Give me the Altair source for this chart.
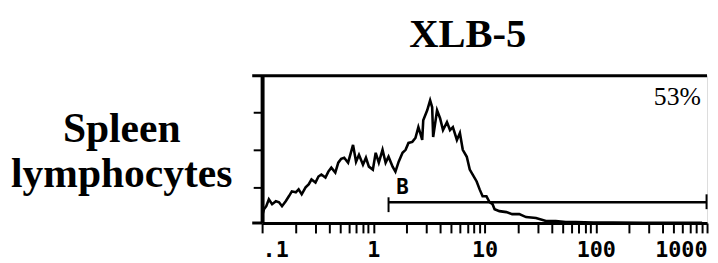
import altair as alt
import pandas as pd

# Histogram trace (fluorescence, counts)
fluor = [0.101, 0.104, 0.109, 0.115, 0.123, 0.133, 0.142, 0.151, 0.163, 0.174,
         0.185, 0.201, 0.213, 0.227, 0.246, 0.262, 0.278, 0.302, 0.321, 0.341,
         0.371, 0.394, 0.419, 0.455, 0.484, 0.514, 0.547, 0.593, 0.657, 0.699,
         0.743, 0.807, 0.858, 0.912, 0.990, 1.05, 1.12, 1.21, 1.29, 1.37,
         1.49, 1.58, 1.69, 1.83, 1.95, 2.07, 2.24, 2.39, 2.54, 2.64,
         2.75, 2.81, 3.05, 3.24, 3.38, 3.45, 3.74, 3.98, 4.23, 4.59,
         4.89, 5.19, 5.64, 6.00, 6.37, 6.92, 7.36, 7.82, 8.49, 9.03,
         9.60, 10.4, 11.1, 11.8, 12.3, 13.6, 15.7, 17.7, 20.5, 23.6,
         29.0, 35.6, 43.7, 53.6, 65.7, 95.0, 143, 264, 489, 903]
counts = [9, 14, 17, 24, 19, 22, 21, 17, 22, 27,
          32, 31, 34, 29, 36, 39, 44, 41, 47, 49,
          46, 52, 56, 51, 61, 65, 66, 61, 79, 62,
          69, 59, 66, 57, 54, 71, 61, 74, 61, 67,
          57, 52, 62, 71, 74, 81, 82, 86, 97, 91,
          84, 104, 114, 124, 117, 87, 114, 106, 94, 102,
          94, 97, 84, 91, 74, 67, 54, 49, 42, 34,
          27, 27, 21, 19, 14, 12, 11, 9, 9, 6,
          5, 2, 2, 1, 1, 0.5, 0.5, 0.3, 0.3, 0.2]

x_ticks = [0.1, 0.2, 0.3, 0.4, 0.5, 0.6, 0.7, 0.8, 0.9,
           1, 2, 3, 4, 5, 6, 7, 8, 9,
           10, 20, 30, 40, 50, 60, 70, 80, 90,
           100, 200, 300, 400, 500, 600, 700, 800, 900, 1000]
y_ticks = [36, 74, 112]

gate_start, gate_end, gate_level = 1.37, 990, 21
gate_label = "B"
percent_label = "53%"
title_text = "XLB-5"
row_label = ["Spleen", "lymphocytes"]

hist = pd.DataFrame({"x": fluor, "y": counts})

xs = alt.Scale(type="log", domain=[0.1, 1000])
ys = alt.Scale(domain=[0, 149])

label_expr = ("datum.value < 0.15 ? '.1' : datum.value == 1 ? '1' : datum.value == 10 ? '10' : "
              "datum.value == 100 ? '100' : datum.value == 1000 ? '1000' : ''")

line = alt.Chart(hist).mark_line(color="black", strokeWidth=2.6).encode(
    x=alt.X("x:Q", scale=xs, axis=alt.Axis(
        values=x_ticks, labelExpr=label_expr, title=None, grid=False,
        labelFont="DejaVu Sans Mono", labelFontWeight="bold", labelFontSize=22,
        labelColor="black", labelFlush=True, labelOverlap=False, labelPadding=7,
        tickSize=10, tickWidth=2, tickColor="black", domainWidth=3, domainColor="black")),
    y=alt.Y("y:Q", scale=ys, axis=alt.Axis(
        values=y_ticks, labels=False, title=None, grid=False,
        tickSize=9, tickWidth=2, tickColor="black", domainWidth=4, domainColor="black")),
)

gate_df = pd.DataFrame({"x1": [gate_start], "x2": [gate_end], "y": [gate_level]})
gate_h = alt.Chart(gate_df).mark_rule(color="black", strokeWidth=2.5).encode(
    x=alt.X("x1:Q", scale=xs), x2="x2:Q", y=alt.Y("y:Q", scale=ys))

gate_v_df = pd.DataFrame({"x": [gate_start, gate_end], "y1": [gate_level - 10, gate_level - 7],
                          "y2": [gate_level + 5, gate_level + 8]})
gate_v = alt.Chart(gate_v_df).mark_rule(color="black", strokeWidth=2).encode(
    x=alt.X("x:Q", scale=xs), y=alt.Y("y1:Q", scale=ys), y2="y2:Q")

b_df = pd.DataFrame({"x": [1.83], "y": [29], "t": [gate_label]})
b_text = alt.Chart(b_df).mark_text(font="DejaVu Sans Mono", fontWeight="bold", fontSize=21,
                                   color="black", baseline="alphabetic").encode(
    x=alt.X("x:Q", scale=xs), y=alt.Y("y:Q", scale=ys), text="t:N")

p_df = pd.DataFrame({"x": [541], "y": [119], "t": [percent_label]})
p_text = alt.Chart(p_df).mark_text(font="Liberation Serif", fontSize=26,
                                   color="black", baseline="alphabetic").encode(
    x=alt.X("x:Q", scale=xs), y=alt.Y("y:Q", scale=ys), text="t:N")

border = alt.Chart(gate_df).mark_rule(color="black", strokeWidth=3).encode(
    x=alt.value(-10), x2=alt.value(450), y=alt.value(0))
bottom_ext = alt.Chart(gate_df).mark_rule(color="black", strokeWidth=3).encode(
    x=alt.value(-10), x2=alt.value(0), y=alt.value(149))

title = alt.Chart(pd.DataFrame({"t": [title_text]})).mark_text(
    font="Liberation Serif", fontWeight="bold", fontSize=41, color="black",
    baseline="alphabetic", align="center").encode(
    x=alt.value(208), y=alt.value(-29), text="t:N")

rows = alt.Chart(pd.DataFrame({"t": row_label, "yy": [67, 113]})).mark_text(
    font="Liberation Serif", fontWeight="bold", fontSize=42, color="black",
    baseline="alphabetic", align="center").encode(
    x=alt.value(-142), y=alt.Y("yy:Q", scale=None, axis=None), text="t:N")

chart = alt.layer(line, gate_h, gate_v, b_text, p_text, border, bottom_ext, title, rows).properties(
    width=450, height=149,
    padding={"left": 257, "top": 67, "right": 3, "bottom": 38},
    autosize=alt.AutoSizeParams(type="none"),
).configure_view(stroke=None).configure(background="white")

chart.save("out.html", embed_options={"renderer": "svg", "actions": False})
